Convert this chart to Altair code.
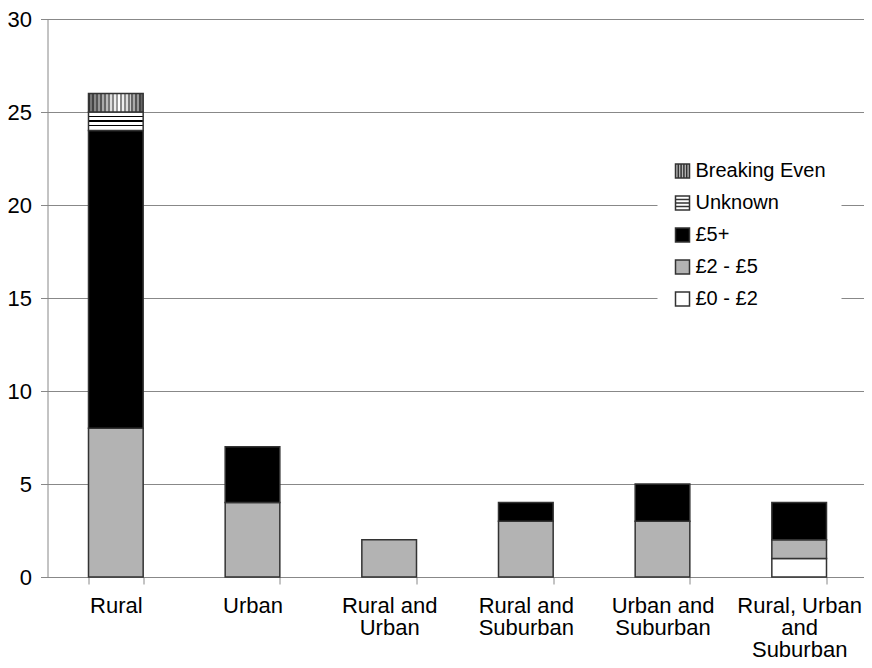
import altair as alt
import pandas as pd

categories = ["Rural", "Urban", "Rural and Urban", "Rural and Suburban",
              "Urban and Suburban", "Rural, Urban and Suburban"]
category_lines = [["Rural"], ["Urban"], ["Rural and", "Urban"], ["Rural and", "Suburban"],
                  ["Urban and", "Suburban"], ["Rural, Urban", "and", "Suburban"]]

series = ["£0 - £2", "£2 - £5", "£5+", "Unknown", "Breaking Even"]
v_0_2 = [0, 0, 0, 0, 0, 1]
v_2_5 = [8, 4, 2, 3, 3, 1]
v_5_plus = [16, 3, 0, 1, 2, 2]
v_unknown = [1, 0, 0, 0, 0, 0]
v_breaking_even = [1, 0, 0, 0, 0, 0]

legend_order = ["Breaking Even", "Unknown", "£5+", "£2 - £5", "£0 - £2"]
legend_fills = ["#b8b8b8", "#ffffff", "#000000", "#b3b3b3", "#ffffff"]
BE_PATH = "M-1,-1H1V1H-1Z M-0.6,-1V1 M-0.2,-1V1 M0.2,-1V1 M0.6,-1V1"
UNK_PATH = "M-1,-1H1V1H-1Z M-1,-0.5H1 M-1,0H1 M-1,0.5H1"
legend_shapes = [BE_PATH, UNK_PATH, "square", "square", "square"]

rows = []
for order, (s, vals) in enumerate(zip(series, [v_0_2, v_2_5, v_5_plus, v_unknown, v_breaking_even])):
    for c, v in zip(categories, vals):
        rows.append({"category": c, "series": s, "order": order, "value": v})
df = pd.DataFrame(rows)

# stripe styles
be_colors = ["#333", "#777", "#444", "#888", "#555", "#999", "#555", "#aaa", "#666", "#bbb",
             "#777", "#ddd", "#888", "#eee", "#999", "#fff", "#888", "#eee", "#888", "#ddd",
             "#777", "#ccc", "#666", "#aaa", "#555", "#999", "#444", "#666"]
n = len(be_colors)
be_stops = []
for i, col in enumerate(be_colors):
    be_stops.append({"offset": i / n, "color": col})
    be_stops.append({"offset": (i + 1) / n, "color": col})
be_grad = {"gradient": "linear", "x1": 0, "x2": 1, "y1": 0, "y2": 0, "stops": be_stops}

unk_bands = [(0.0, 0.2, "#fff"), (0.2, 0.28, "#000"), (0.28, 0.45, "#fff"), (0.45, 0.52, "#000"),
             (0.52, 0.69, "#fff"), (0.69, 0.76, "#000"), (0.76, 1.0, "#fff")]
unk_stops = []
for a, b, col in unk_bands:
    unk_stops.append({"offset": a, "color": col})
    unk_stops.append({"offset": b, "color": col})
unk_grad = {"gradient": "linear", "x1": 0, "x2": 0, "y1": 0, "y2": 1, "stops": unk_stops}

series_fill = {"£0 - £2": "#ffffff", "£2 - £5": "#b3b3b3", "£5+": "#000000",
               "Unknown": unk_grad, "Breaking Even": be_grad}

label_expr = ""
for c, lines in zip(categories, category_lines):
    label_expr += "datum.value == '%s' ? [%s] : " % (c, ", ".join("'%s'" % l for l in lines))
label_expr += "datum.value"

FONT = "Liberation Sans"

x_enc = alt.X("category:N", sort=categories,
              scale=alt.Scale(paddingInner=0.6, paddingOuter=0.3),
              axis=alt.Axis(title=None, labelAngle=0, tickBand="extent", grid=False,
                            labelExpr=label_expr, labelLineHeight=22, labelPadding=11,
                            labelFontSize=22))


def y_enc(field):
    return alt.Y(field, scale=alt.Scale(domain=[0, 30], nice=False, zero=True),
                 axis=alt.Axis(title=None, values=[0, 5, 10, 15, 20, 25, 30], grid=True,
                               labelPadding=9, labelFontSize=22))


legend = alt.Legend(orient="none", legendX=610, legendY=127, padding=15, fillColor="white",
                    title=None, labelFontSize=20, labelFont=FONT, symbolSize=196,
                    labelOffset=3, rowPadding=12, symbolOpacity=1, labelColor="#000")

color_enc = alt.Color("series:N", scale=alt.Scale(domain=legend_order, range=legend_fills),
                      legend=legend)
shape_enc = alt.Shape("series:N", scale=alt.Scale(domain=legend_order, range=legend_shapes),
                      legend=legend)

base = alt.Chart(df).transform_filter("datum.value > 0").transform_stack(
    stack="value", groupby=["category"], as_=["y0", "y1"],
    sort=[alt.SortField("order", order="ascending")])

layers = []
for s in series:
    layers.append(
        base.transform_filter(alt.datum.series == s).mark_bar(
            fill=series_fill[s], stroke="#333", strokeWidth=1.5
        ).encode(x=x_enc, y=y_enc("y1:Q"), y2="y0:Q")
    )

# legend-only layer (no marks drawn): carries the symbol shapes and fills for the legend
legend_layer = base.transform_filter("datum.value < 0").mark_point(
    filled=True, size=196, stroke="#333", strokeWidth=1.2, opacity=1).encode(
    x=x_enc, y=y_enc("y1:Q"), color=color_enc, shape=shape_enc)
layers.append(legend_layer)

chart = alt.layer(*layers).properties(
    width=820, height=558,
    autosize=alt.AutoSizeParams(type="none"),
    padding={"left": 39.5, "top": 11, "right": -3.5, "bottom": 83},
).configure_view(stroke=None).configure_axis(
    gridColor="#888", domainColor="#888", tickColor="#888", tickSize=7,
    labelFont=FONT, labelColor="#000", domainWidth=1, gridWidth=1, tickWidth=1,
)

chart.save("out.html", embed_options={"renderer": "svg", "actions": False})
